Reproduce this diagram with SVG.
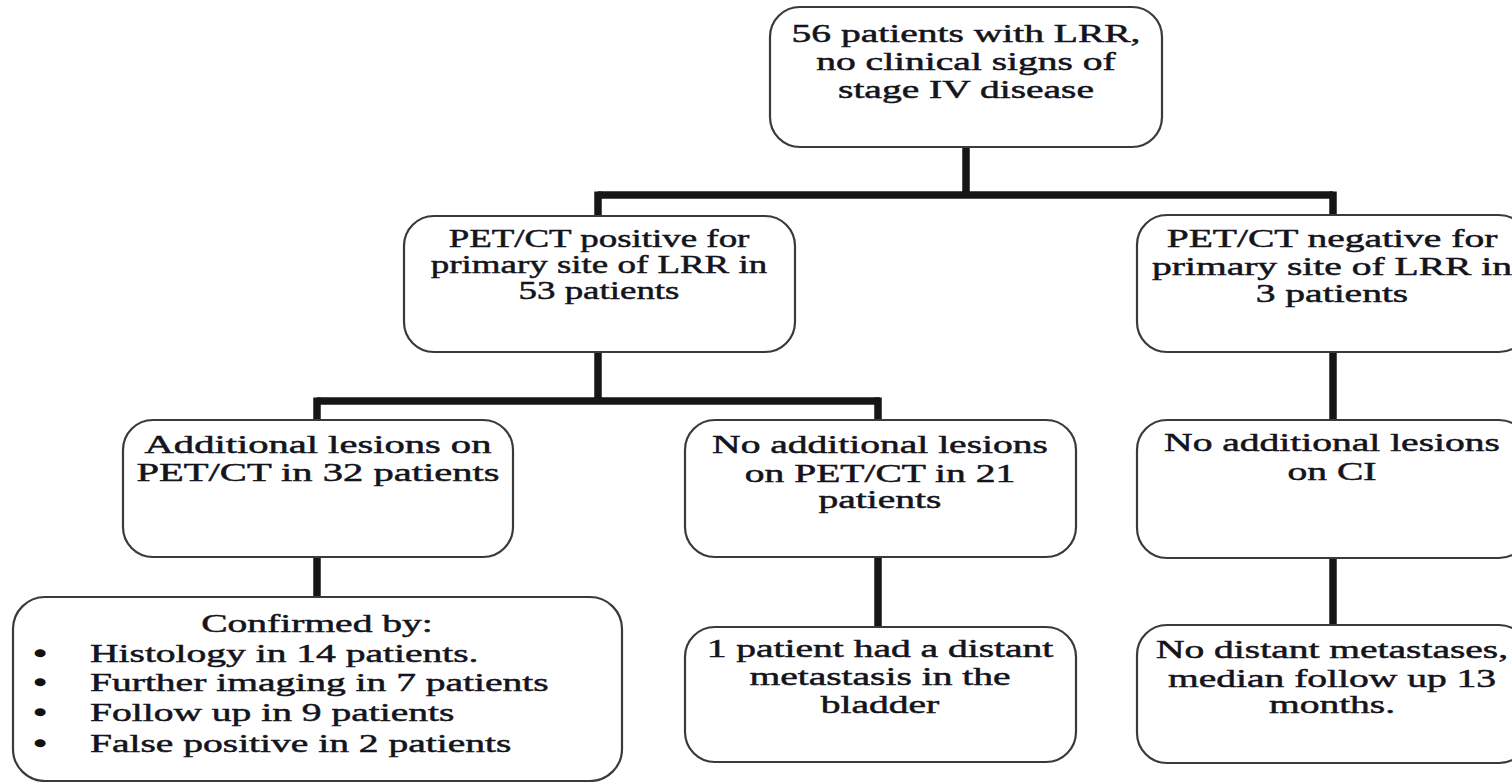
<svg xmlns="http://www.w3.org/2000/svg" width="1512" height="782" viewBox="0 0 1512 782">
<style>
.box{fill:#fff;stroke:#3a3a3a;stroke-width:2.2}
.t{font-family:"Liberation Serif","Times New Roman",serif;font-size:26px;fill:#14141c;stroke:#14141c;stroke-width:0.5;text-anchor:middle}
.l{text-anchor:start}
.b{font-family:"Liberation Serif","Times New Roman",serif;font-size:27px;fill:#111;stroke:#111;stroke-width:1.4;text-anchor:middle}
.c{fill:none;stroke:#161616;stroke-width:7.5;stroke-linecap:butt}
</style>
<rect width="1512" height="782" fill="#fff"/>
<g id="connectors">
<path class="c" d="M966 147V195"/>
<path class="c" d="M598 195H1333"/>
<path class="c" d="M598 191.5V217"/>
<path class="c" d="M1333 191.5V216"/>
<path class="c" d="M598 352V401"/>
<path class="c" d="M317 401H880"/>
<path class="c" d="M317 397.5V421"/>
<path class="c" d="M878 397.5V421"/>
<path class="c" d="M1333 352V421"/>
<path class="c" d="M317 557V598"/>
<path class="c" d="M878 557V627"/>
<path class="c" d="M1333 557V626"/>
</g>
<g id="n-top">
<rect class="box" x="770" y="7" width="392" height="140" rx="30"/>
<g transform="translate(966,0) scale(1.52,1)">
<text class="t" x="0" y="42">56 patients with LRR,</text>
<text class="t" x="0" y="70">no clinical signs of</text>
<text class="t" x="0" y="98">stage IV disease</text>
</g>
</g>
<g id="n-pos">
<rect class="box" x="404" y="216" width="391" height="136" rx="30"/>
<g transform="translate(599,0) scale(1.42,1)">
<text class="t" x="0" y="247">PET/CT positive for</text>
<text class="t" x="0" y="273">primary site of LRR in</text>
<text class="t" x="0" y="299">53 patients</text>
</g>
</g>
<g id="n-neg">
<rect class="box" x="1137" y="215" width="392" height="137" rx="30"/>
<g transform="translate(1332,0) scale(1.52,1)">
<text class="t" x="0" y="247">PET/CT negative for</text>
<text class="t" x="0" y="275">primary site of LRR in</text>
<text class="t" x="0" y="302">3 patients</text>
</g>
</g>
<g id="n-add">
<rect class="box" x="123" y="420" width="390" height="137" rx="30"/>
<g transform="translate(318,0) scale(1.56,1)">
<text class="t" x="0" y="453">Additional lesions on</text>
<text class="t" x="0" y="481">PET/CT in 32 patients</text>
</g>
</g>
<g id="n-noadd">
<rect class="box" x="685" y="420" width="391" height="137" rx="30"/>
<g transform="translate(880,0) scale(1.52,1)">
<text class="t" x="0" y="453">No additional lesions</text>
<text class="t" x="0" y="482">on PET/CT in 21</text>
<text class="t" x="0" y="508">patients</text>
</g>
</g>
<g id="n-noci">
<rect class="box" x="1137" y="420" width="392" height="138" rx="30"/>
<g transform="translate(1332,0) scale(1.52,1)">
<text class="t" x="0" y="451">No additional lesions</text>
<text class="t" x="0" y="480">on CI</text>
</g>
</g>
<g id="n-confirmed">
<rect class="box" x="13" y="597" width="609" height="184" rx="32"/>
<g transform="translate(317,0) scale(1.52,1)">
<text class="t" x="0" y="632">Confirmed by:</text>
</g>
<g transform="translate(40,0) scale(1.4,1)">
<text class="b" x="0" y="663">•</text>
<text class="b" x="0" y="692">•</text>
<text class="b" x="0" y="722">•</text>
<text class="b" x="0" y="753">•</text>
</g>
<g transform="translate(90,0) scale(1.52,1)">
<text class="t l" x="0" y="662">Histology in 14 patients.</text>
<text class="t l" x="0" y="691">Further imaging in 7 patients</text>
<text class="t l" x="0" y="721">Follow up in 9 patients</text>
<text class="t l" x="0" y="752">False positive in 2 patients</text>
</g>
</g>
<g id="n-bladder">
<rect class="box" x="685" y="627" width="391" height="135" rx="30"/>
<g transform="translate(880,0) scale(1.52,1)">
<text class="t" x="0" y="657">1 patient had a distant</text>
<text class="t" x="0" y="685">metastasis in the</text>
<text class="t" x="0" y="713">bladder</text>
</g>
</g>
<g id="n-nodistant">
<rect class="box" x="1137" y="625" width="392" height="138" rx="30"/>
<g transform="translate(1332,0) scale(1.52,1)">
<text class="t" x="0" y="658">No distant metastases,</text>
<text class="t" x="0" y="687">median follow up 13</text>
<text class="t" x="0" y="713">months.</text>
</g>
</g>
</svg>
